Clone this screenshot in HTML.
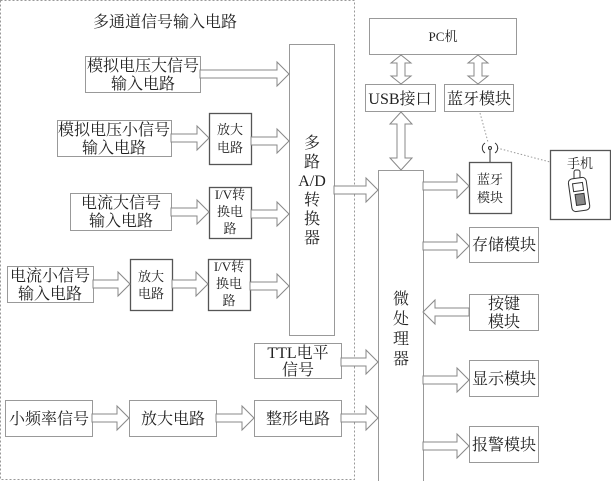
<!DOCTYPE html>
<html><head><meta charset="utf-8"><style>
html,body{margin:0;padding:0;background:#fff;}
svg{display:block;}
text{font-family:"Liberation Serif","Noto Serif CJK SC",serif;fill:#222;}
</style></head><body>
<svg width="611" height="481" viewBox="0 0 611 481" xmlns="http://www.w3.org/2000/svg">
<rect x="0.5" y="0.5" width="354" height="479" fill="none" stroke="#999" stroke-dasharray="2,2"/>
<text x="165" y="27" font-size="16" text-anchor="middle">多通道信号输入电路</text>
<g fill="#fff" stroke="#999" stroke-width="1">
<rect x="289.5" y="44.5" width="45" height="291"/>
<rect x="85.5" y="56.5" width="115" height="36"/>
<rect x="57.5" y="120.5" width="114" height="36"/>
<rect x="70.5" y="193.5" width="101" height="37"/>
<rect x="7.5" y="266.5" width="86" height="36"/>
<rect x="254.5" y="343.5" width="87" height="35"/>
<rect x="5.5" y="400.5" width="87" height="36"/>
<rect x="129.5" y="400.5" width="87" height="36"/>
<rect x="254.5" y="400.5" width="87" height="36"/>
<rect x="369.5" y="18.5" width="147" height="36"/>
<rect x="365.5" y="84.5" width="70" height="27"/>
<rect x="444.5" y="84.5" width="69" height="27"/>
<rect x="378.5" y="170.5" width="45" height="320"/>
<rect x="469.5" y="227.5" width="69" height="35"/>
<rect x="469.5" y="294.5" width="69" height="36"/>
<rect x="469.5" y="360.5" width="69" height="36"/>
<rect x="469.5" y="426.5" width="69" height="36"/>
</g>
<g fill="#fff" stroke="#555" stroke-width="1.3">
<rect x="209.5" y="113.5" width="42" height="51"/>
<rect x="209.5" y="187.5" width="42" height="51"/>
<rect x="130.5" y="259.5" width="42" height="51"/>
<rect x="208.5" y="259.5" width="42" height="51"/>
<rect x="469.5" y="162.5" width="42" height="51"/>
<rect x="550.5" y="150.5" width="60" height="69"/>
</g>
<g fill="#fff" stroke="#888" stroke-width="1">
<polygon points="200,70 277,70 277,62 289,74 277,86 277,78 200,78"/>
<polygon points="171,134 197,134 197,126 209,138 197,150 197,142 171,142"/>
<polygon points="251,137 277,137 277,129 289,141 277,153 277,145 251,145"/>
<polygon points="171,208 197,208 197,200 209,212 197,224 197,216 171,216"/>
<polygon points="251,210 277,210 277,202 289,214 277,226 277,218 251,218"/>
<polygon points="93,280 118,280 118,272 130,284 118,296 118,288 93,288"/>
<polygon points="172,280 196,280 196,272 208,284 196,296 196,288 172,288"/>
<polygon points="250,282 277,282 277,274 289,286 277,298 277,290 250,290"/>
<polygon points="92,414 117,414 117,406 129,418 117,430 117,422 92,422"/>
<polygon points="216,414 242,414 242,406 254,418 242,430 242,422 216,422"/>
<polygon points="341,414 366,414 366,406 378,418 366,430 366,422 341,422"/>
<polygon points="341,358 366,358 366,350 378,362 366,374 366,366 341,366"/>
<polygon points="334,186 366,186 366,178 378,190 366,202 366,194 334,194"/>
<polygon points="423,182 457,182 457,174 469,186 457,198 457,190 423,190"/>
<polygon points="423,242 457,242 457,234 469,246 457,258 457,250 423,250"/>
<polygon points="469,308 435,308 435,300 423,312 435,324 435,316 469,316"/>
<polygon points="423,376 457,376 457,368 469,380 457,392 457,384 423,384"/>
<polygon points="423,442 457,442 457,434 469,446 457,458 457,450 423,450"/>
<polygon points="401,55 411,63 405,63 405,76 411,76 401,84 391,76 397,76 397,63 391,63"/>
<polygon points="478,55 488,63 482,63 482,76 488,76 478,84 468,76 474,76 474,63 468,63"/>
<polygon points="401,112 412,124 405,124 405,158 412,158 401,170 390,158 397,158 397,124 390,124"/>
</g>
<g stroke="#999" stroke-dasharray="1.5,2" fill="none">
<line x1="480" y1="113" x2="488" y2="142"/>
<line x1="497" y1="148" x2="550" y2="162"/>
</g>
<g stroke="#333" fill="none" stroke-width="1">
<line x1="490" y1="150" x2="490" y2="162"/>
<circle cx="490" cy="148" r="1.5"/>
<path d="M485,143 a6,6 0 0 0 0,10 M495,143 a6,6 0 0 1 0,10"/>
</g>
<g stroke="#333" fill="#fff" stroke-width="1">
<rect x="574" y="170" width="6" height="10" rx="2"/>
<rect x="570" y="178" width="18" height="33" rx="4" transform="rotate(-8 579 194)"/>
<rect x="574" y="183" width="10" height="8" transform="rotate(-8 579 194)"/>
<rect x="575" y="194" width="9" height="11" fill="#888" transform="rotate(-8 579 194)"/>
</g>
<g font-size="16" text-anchor="middle">
<text x="143" y="71">模拟电压大信号</text><text x="143" y="89">输入电路</text>
<text x="114" y="135">模拟电压小信号</text><text x="114" y="153">输入电路</text>
<text x="121" y="208">电流大信号</text><text x="121" y="226">输入电路</text>
<text x="50" y="281">电流小信号</text><text x="50" y="299">输入电路</text>
<text x="312" y="148">多</text><text x="312" y="167">路</text><text x="312" y="186">A/D</text>
<text x="312" y="205">转</text><text x="312" y="224">换</text><text x="312" y="243">器</text>
<text x="298" y="358">TTL电平</text><text x="298" y="375">信号</text>
<text x="49" y="424">小频率信号</text>
<text x="173" y="424">放大电路</text>
<text x="298" y="424">整形电路</text>
<text x="400" y="104">USB接口</text>
<text x="479" y="104">蓝牙模块</text>
<text x="401" y="304">微</text><text x="401" y="324">处</text><text x="401" y="344">理</text><text x="401" y="364">器</text>
<text x="504" y="250">存储模块</text>
<text x="504" y="309">按键</text><text x="504" y="327">模块</text>
<text x="504" y="384">显示模块</text>
<text x="504" y="450">报警模块</text>
</g>
<g font-size="13" text-anchor="middle">
<text x="443" y="41">PC机</text>
<text x="230" y="134">放大</text><text x="230" y="152">电路</text>
<text x="230" y="199">I/V转</text><text x="230" y="216">换电</text><text x="230" y="233">路</text>
<text x="151" y="281">放大</text><text x="151" y="298">电路</text>
<text x="229" y="271">I/V转</text><text x="229" y="288">换电</text><text x="229" y="305">路</text>
<text x="490" y="184">蓝牙</text><text x="490" y="202">模块</text>
<text x="580" y="168">手机</text>
</g>
</svg>
</body></html>
